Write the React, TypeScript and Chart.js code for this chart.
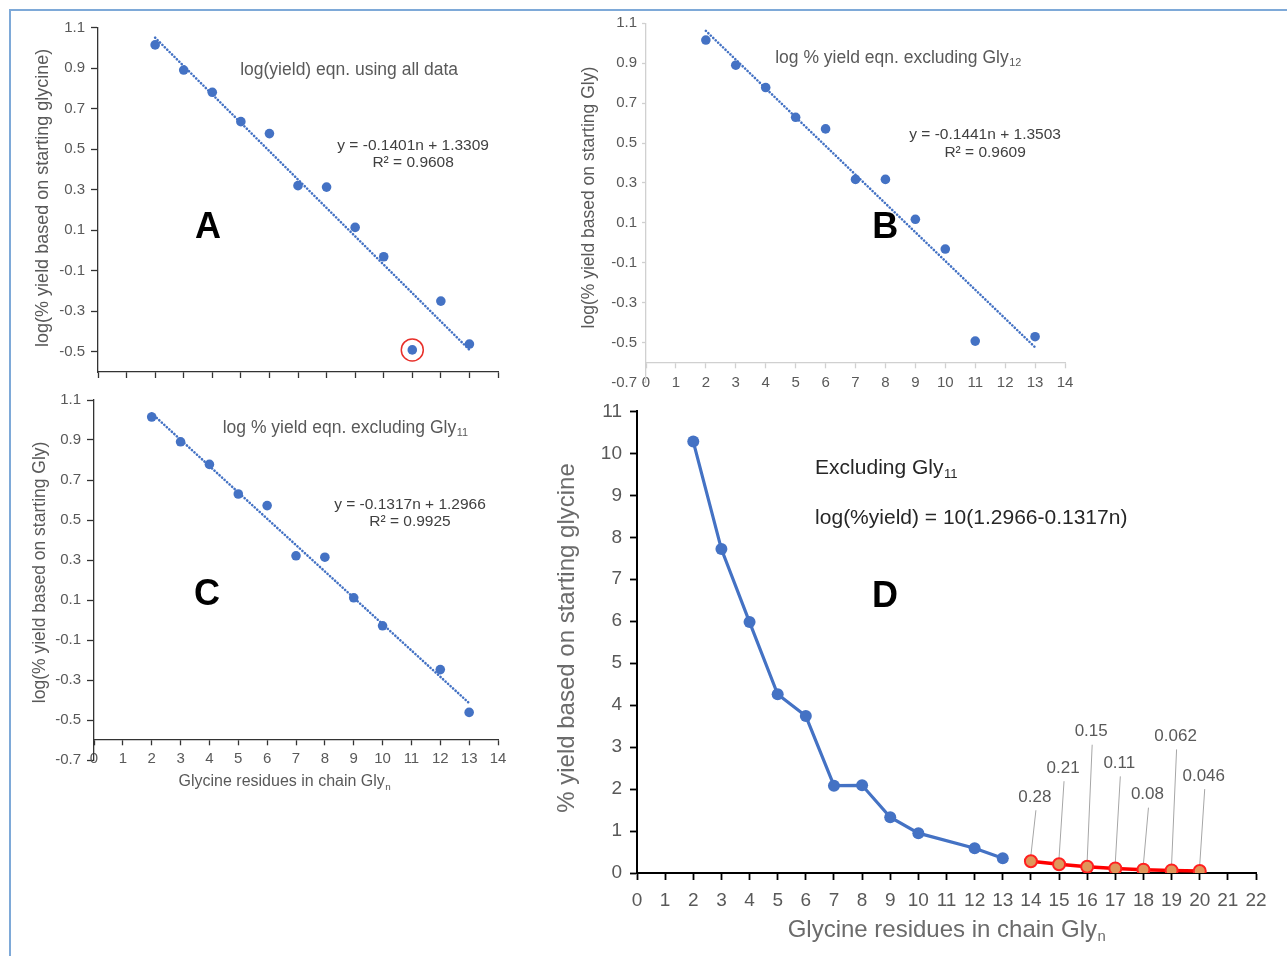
import React, { useEffect, useRef } from "react";
import { Chart, registerables } from "chart.js";

Chart.register(...registerables);

const FONT = '"Liberation Sans", Arial, Helvetica, sans-serif';

// ---------------- data ----------------
// Panel A: log(% yield) using all data
const A_N = [2, 3, 4, 5, 6, 7, 8, 9, 10, 11, 12, 13];
const A_LOG_YIELD = [1.015, 0.891, 0.781, 0.636, 0.577, 0.32, 0.313, 0.114, -0.031, -0.491, -0.25, -0.462];
const A_SLOPE = -0.1401;
const A_INTERCEPT = 1.3309;
const A_R2 = 0.9608;
const A_OUTLIER_N = 11;

// Panel B: excluding Gly12
const B_N = [2, 3, 4, 5, 6, 7, 8, 9, 10, 11, 13];
const B_LOG_YIELD = [1.016, 0.89, 0.778, 0.629, 0.571, 0.318, 0.318, 0.118, -0.031, -0.492, -0.47];
const B_SLOPE = -0.1441;
const B_INTERCEPT = 1.3503;
const B_R2 = 0.9609;

// Panel C: excluding Gly11
const C_N = [2, 3, 4, 5, 6, 7, 8, 9, 10, 12, 13];
const C_LOG_YIELD = [1.015, 0.891, 0.778, 0.63, 0.572, 0.321, 0.314, 0.111, -0.029, -0.248, -0.462];
const C_SLOPE = -0.1317;
const C_INTERCEPT = 1.2966;
const C_R2 = 0.9925;

// Panel D: % yield (measured) and predicted
const D_N = [2, 3, 4, 5, 6, 7, 8, 9, 10, 12, 13];
const D_YIELD = [10.28, 7.72, 5.98, 4.26, 3.74, 2.08, 2.09, 1.33, 0.95, 0.59, 0.35];
const D_PRED_N = [14, 15, 16, 17, 18, 19, 20];
const D_PRED_YIELD = [0.28, 0.21, 0.15, 0.11, 0.08, 0.062, 0.046];
const D_PRED_LABELS = ["0.28", "0.21", "0.15", "0.11", "0.08", "0.062", "0.046"];

// tick labels
const LOG_TICKS = [1.1, 0.9, 0.7, 0.5, 0.3, 0.1, -0.1, -0.3, -0.5, -0.7];
const N_TICKS_14 = [0, 1, 2, 3, 4, 5, 6, 7, 8, 9, 10, 11, 12, 13, 14];
const N_TICKS_22 = [0, 1, 2, 3, 4, 5, 6, 7, 8, 9, 10, 11, 12, 13, 14, 15, 16, 17, 18, 19, 20, 21, 22];
const YIELD_TICKS = [0, 1, 2, 3, 4, 5, 6, 7, 8, 9, 10, 11];

// layout only: how far (px) each callout label sits above its point in panel D
const D_LABEL_RISE = [64, 96, 135, 105, 75, 134, 95];

const BLUE = "#4472c4";

type Item = {
  text: string;
  sub?: string;
  x: number;
  y: number;
  dx?: number;
  dy?: number;
  size: number;
  bold?: boolean;
  color: string;
  align?: "left" | "center";
  rotate?: boolean;
};

function textPlugin(items: Item[]) {
  return {
    id: "panelTexts",
    afterDraw(chart: any) {
      const ctx = chart.ctx as CanvasRenderingContext2D;
      const xs = chart.scales.x;
      const ys = chart.scales.y;
      for (const it of items) {
        const px = xs.getPixelForValue(it.x) + (it.dx || 0);
        const py = ys.getPixelForValue(it.y) + (it.dy || 0);
        ctx.save();
        ctx.translate(px, py);
        if (it.rotate) ctx.rotate(-Math.PI / 2);
        const f = `${it.bold ? "bold " : ""}${it.size}px ${FONT}`;
        const subSize = it.size * 0.62;
        const sf = `${subSize}px ${FONT}`;
        ctx.font = f;
        ctx.fillStyle = it.color;
        ctx.textBaseline = "middle";
        ctx.textAlign = "left";
        const w = ctx.measureText(it.text).width;
        let sw = 0;
        if (it.sub) {
          ctx.font = sf;
          sw = ctx.measureText(it.sub).width;
          ctx.font = f;
        }
        const total = w + sw;
        const x0 = (it.align || "center") === "center" ? -total / 2 : 0;
        ctx.fillText(it.text, x0, 0);
        if (it.sub) {
          ctx.font = sf;
          ctx.fillText(it.sub, x0 + w + 0.5, it.size * 0.3);
        }
        ctx.restore();
      }
    },
  };
}

const calloutPlugin = {
  id: "callouts",
  beforeDatasetsDraw(chart: any) {
    const ctx = chart.ctx as CanvasRenderingContext2D;
    const xs = chart.scales.x;
    const ys = chart.scales.y;
    ctx.save();
    ctx.font = `17px ${FONT}`;
    ctx.textAlign = "center";
    ctx.textBaseline = "middle";
    D_PRED_N.forEach((n, i) => {
      const px = xs.getPixelForValue(n);
      const py = ys.getPixelForValue(D_PRED_YIELD[i]);
      const lx = px + 4;
      const ly = py - D_LABEL_RISE[i];
      ctx.strokeStyle = "#a6a6a6";
      ctx.lineWidth = 1;
      ctx.beginPath();
      ctx.moveTo(lx + 1, ly + 13);
      ctx.lineTo(px, py - 6);
      ctx.stroke();
      ctx.fillStyle = "#595959";
      ctx.fillText(D_PRED_LABELS[i], lx, ly);
    });
    ctx.restore();
  },
};

function pts(xs: number[], ys: number[]) {
  return xs.map((x, i) => ({ x, y: ys[i] }));
}

function trend(xs: number[], slope: number, intercept: number) {
  const lo = Math.min(...xs);
  const hi = Math.max(...xs);
  return [lo, hi].map((n) => ({ x: n, y: slope * n + intercept }));
}

function eqText(slope: number, intercept: number) {
  return `y = ${slope.toFixed(4)}n + ${intercept.toFixed(4)}`;
}

type LogCfg = {
  yMin: number;
  yWidth: number;
  axisColor: string;
  yTickLen: number;
  yPad: number;
  xTickLen: number;
  xPad: number;
  xLabels: boolean;
  xAtValue: boolean;
  padding: { top: number; right: number; bottom: number; left: number };
};

function logOptions(cfg: LogCfg) {
  const yTicks = LOG_TICKS.filter((v) => v >= cfg.yMin - 1e-9);
  const xScale: any = {
    type: "linear",
    min: 0,
    max: 14,
    position: cfg.xAtValue ? { y: -0.6 } : "bottom",
    afterBuildTicks: (s: any) => {
      s.ticks = N_TICKS_14.map((v) => ({ value: v }));
    },
    ticks: {
      display: cfg.xLabels,
      autoSkip: false,
      maxRotation: 0,
      color: "#595959",
      font: { family: FONT, size: 15 },
      padding: cfg.xPad,
    },
    grid: {
      display: true,
      drawOnChartArea: false,
      drawTicks: true,
      tickLength: cfg.xTickLen,
      tickColor: cfg.axisColor,
      tickWidth: 1.3,
    },
    border: { display: true, color: cfg.axisColor, width: 1.3 },
  };
  if (!cfg.xAtValue) {
    xScale.afterFit = (s: any) => {
      s.height = 12;
    };
  }
  return {
    responsive: false,
    animation: false,
    devicePixelRatio: 1,
    events: [],
    layout: { padding: cfg.padding },
    plugins: { legend: { display: false }, tooltip: { enabled: false } },
    scales: {
      x: xScale,
      y: {
        type: "linear",
        min: cfg.yMin,
        max: 1.1,
        afterBuildTicks: (s: any) => {
          s.ticks = yTicks.map((v) => ({ value: v }));
        },
        afterFit: (s: any) => {
          s.width = cfg.yWidth;
        },
        ticks: {
          color: "#595959",
          font: { family: FONT, size: 15 },
          padding: cfg.yPad,
          callback: (v: any) => Number(v).toFixed(1),
        },
        grid: {
          display: true,
          drawOnChartArea: false,
          drawTicks: true,
          tickLength: cfg.yTickLen,
          tickColor: cfg.axisColor,
          tickWidth: 1.3,
        },
        border: { display: true, color: cfg.axisColor, width: 1.3 },
      },
    },
  };
}

function scatterSets(xs: number[], ys: number[], slope: number, intercept: number) {
  return [
    {
      data: pts(xs, ys),
      showLine: false,
      pointRadius: 4.8,
      pointBackgroundColor: BLUE,
      pointBorderWidth: 0,
    },
    {
      data: trend(xs, slope, intercept),
      showLine: true,
      borderColor: BLUE,
      borderWidth: 2.6,
      borderDash: [0.1, 3.3],
      borderCapStyle: "round",
      pointRadius: 0,
      fill: false,
    },
  ];
}

function buildA(canvas: HTMLCanvasElement) {
  const oi = A_N.indexOf(A_OUTLIER_N);
  const items: Item[] = [
    { text: "log(yield) eqn. using all data", x: 8.79, y: 0.891, size: 17.5, color: "#595959" },
    { text: eqText(A_SLOPE, A_INTERCEPT), x: 11.03, y: 0.516, size: 15.5, color: "#404040" },
    { text: `R² = ${A_R2.toFixed(4)}`, x: 11.03, y: 0.432, size: 15.5, color: "#404040" },
    { text: "A", x: 3.85, y: 0.111, size: 36, bold: true, color: "#000" },
    { text: "log(% yield based on starting glycine)", x: 0, y: 0.26, dx: -55, size: 18, color: "#595959", rotate: true },
  ];
  return new Chart(canvas, {
    type: "scatter",
    data: {
      datasets: [
        ...scatterSets(A_N, A_LOG_YIELD, A_SLOPE, A_INTERCEPT),
        {
          data: [{ x: A_N[oi], y: A_LOG_YIELD[oi] }],
          showLine: false,
          pointRadius: 11,
          pointBackgroundColor: "rgba(0,0,0,0)",
          pointBorderColor: "#e8302a",
          pointBorderWidth: 1.5,
        },
      ] as any,
    },
    options: logOptions({
      yMin: -0.6,
      yWidth: 86,
      axisColor: "#333333",
      yTickLen: 7,
      yPad: 6,
      xTickLen: 6,
      xPad: 4,
      xLabels: false,
      xAtValue: false,
      padding: { top: 15.7, right: 20, bottom: 8, left: 0 },
    }) as any,
    plugins: [textPlugin(items)],
  });
}

function buildB(canvas: HTMLCanvasElement) {
  const items: Item[] = [
    { text: "log % yield eqn. excluding Gly", sub: "12", x: 8.42, y: 0.926, size: 17.5, color: "#595959" },
    { text: eqText(B_SLOPE, B_INTERCEPT), x: 11.33, y: 0.54, size: 15.5, color: "#404040" },
    { text: `R² = ${B_R2.toFixed(4)}`, x: 11.33, y: 0.45, size: 15.5, color: "#404040" },
    { text: "B", x: 7.99, y: 0.074, size: 36, bold: true, color: "#000" },
    { text: "log(% yield based on starting Gly)", x: 0, y: 0.227, dx: -57, size: 17.5, color: "#595959", rotate: true },
  ];
  return new Chart(canvas, {
    type: "scatter",
    data: { datasets: scatterSets(B_N, B_LOG_YIELD, B_SLOPE, B_INTERCEPT) as any },
    options: logOptions({
      yMin: -0.7,
      yWidth: 76,
      axisColor: "#d0d0d0",
      yTickLen: 4,
      yPad: 5,
      xTickLen: 5,
      xPad: 6,
      xLabels: true,
      xAtValue: true,
      padding: { top: 15.3, right: 20, bottom: 25.4, left: 0 },
    }) as any,
    plugins: [textPlugin(items)],
  });
}

function buildC(canvas: HTMLCanvasElement) {
  const items: Item[] = [
    { text: "log % yield eqn. excluding Gly", sub: "11", x: 8.7, y: 0.96, size: 17.5, color: "#595959" },
    { text: eqText(C_SLOPE, C_INTERCEPT), x: 10.95, y: 0.577, size: 15.5, color: "#404040" },
    { text: `R² = ${C_R2.toFixed(4)}`, x: 10.95, y: 0.492, size: 15.5, color: "#404040" },
    { text: "C", x: 3.92, y: 0.123, size: 36, bold: true, color: "#000" },
    { text: "log(% yield based on starting Gly)", x: 0, y: 0.238, dx: -54, size: 17.5, color: "#595959", rotate: true },
    { text: "Glycine residues in chain Gly", sub: "n", x: 6.6, y: -0.7, dy: 22, size: 16, color: "#595959" },
  ];
  return new Chart(canvas, {
    type: "scatter",
    data: { datasets: scatterSets(C_N, C_LOG_YIELD, C_SLOPE, C_INTERCEPT) as any },
    options: logOptions({
      yMin: -0.7,
      yWidth: 82,
      axisColor: "#333333",
      yTickLen: 7,
      yPad: 6,
      xTickLen: 5,
      xPad: 5,
      xLabels: true,
      xAtValue: true,
      padding: { top: 14, right: 20, bottom: 35, left: 0 },
    }) as any,
    plugins: [textPlugin(items)],
  });
}

function buildD(canvas: HTMLCanvasElement) {
  const items: Item[] = [
    { text: "Excluding Gly", sub: "11", x: 6.33, y: 9.65, size: 21, color: "#262626", align: "left" },
    {
      text: `log(%yield) = 10(${C_INTERCEPT.toFixed(4)}-${Math.abs(C_SLOPE).toFixed(4)}n)`,
      x: 6.33,
      y: 8.46,
      size: 21,
      color: "#262626",
      align: "left",
    },
    { text: "D", x: 8.81, y: 6.57, size: 36, bold: true, color: "#000" },
    { text: "% yield based on starting glycine", x: 0, y: 5.6, dx: -70, size: 24, color: "#6b6b6b", rotate: true },
    { text: "Glycine residues in chain Gly", sub: "n", x: 11, y: 0, dy: 57, size: 24, color: "#6b6b6b" },
  ];
  return new Chart(canvas, {
    type: "scatter",
    data: {
      datasets: [
        {
          data: pts(D_N, D_YIELD),
          showLine: true,
          borderColor: BLUE,
          borderWidth: 3.2,
          pointRadius: 6,
          pointBackgroundColor: BLUE,
          pointBorderColor: BLUE,
          pointBorderWidth: 0,
        },
        {
          data: pts(D_PRED_N, D_PRED_YIELD),
          showLine: true,
          borderColor: "#ff0000",
          borderWidth: 3.5,
          pointRadius: 6,
          pointBackgroundColor: "#e0965a",
          pointBorderColor: "#ff2020",
          pointBorderWidth: 2,
        },
      ] as any,
    },
    options: {
      responsive: false,
      animation: false,
      devicePixelRatio: 1,
      events: [],
      layout: { padding: { top: 16, right: 24, bottom: 41, left: 0 } },
      plugins: { legend: { display: false }, tooltip: { enabled: false } },
      scales: {
        x: {
          type: "linear",
          min: 0,
          max: 22,
          afterBuildTicks: (s: any) => {
            s.ticks = N_TICKS_22.map((v) => ({ value: v }));
          },
          afterFit: (s: any) => {
            s.height = 40;
          },
          ticks: {
            autoSkip: false,
            maxRotation: 0,
            color: "#595959",
            font: { family: FONT, size: 19 },
            padding: 9,
          },
          grid: {
            display: true,
            drawOnChartArea: false,
            drawTicks: true,
            tickLength: 7,
            tickColor: "#000",
            tickWidth: 1.8,
          },
          border: { display: true, color: "#000", width: 2 },
        },
        y: {
          type: "linear",
          min: 0,
          max: 11,
          afterBuildTicks: (s: any) => {
            s.ticks = YIELD_TICKS.map((v) => ({ value: v }));
          },
          afterFit: (s: any) => {
            s.width = 97;
          },
          ticks: {
            color: "#595959",
            font: { family: FONT, size: 19 },
            padding: 8,
          },
          grid: {
            display: true,
            drawOnChartArea: false,
            drawTicks: true,
            tickLength: 7,
            tickColor: "#000",
            tickWidth: 1.8,
          },
          border: { display: true, color: "#000", width: 2 },
        },
      },
    } as any,
    plugins: [textPlugin(items), calloutPlugin],
  });
}

function Panel(props: {
  left: number;
  top: number;
  width: number;
  height: number;
  build: (c: HTMLCanvasElement) => Chart;
}) {
  const ref = useRef<HTMLCanvasElement>(null);
  useEffect(() => {
    const chart = props.build(ref.current!);
    return () => chart.destroy();
  }, []);
  return (
    <canvas
      ref={ref}
      width={props.width}
      height={props.height}
      style={{
        position: "absolute",
        left: props.left,
        top: props.top,
        width: props.width,
        height: props.height,
      }}
    />
  );
}

export default function App() {
  return (
    <div
      style={{
        position: "absolute",
        left: 0,
        top: 0,
        width: 1287,
        height: 956,
        overflow: "hidden",
        background: "#fff",
      }}
    >
      <div
        style={{
          position: "absolute",
          left: 9,
          top: 9,
          width: 1278,
          height: 947,
          boxSizing: "border-box",
          borderLeft: "2px solid #7ea9d8",
          borderTop: "2px solid #7ea9d8",
        }}
      />
      <Panel left={12} top={12} width={506} height={380} build={buildA} />
      <Panel left={570} top={8} width={515} height={400} build={buildB} />
      <Panel left={12} top={385} width={506} height={410} build={buildC} />
      <Panel left={540} top={392} width={740} height={562} build={buildD} />
    </div>
  );
}
